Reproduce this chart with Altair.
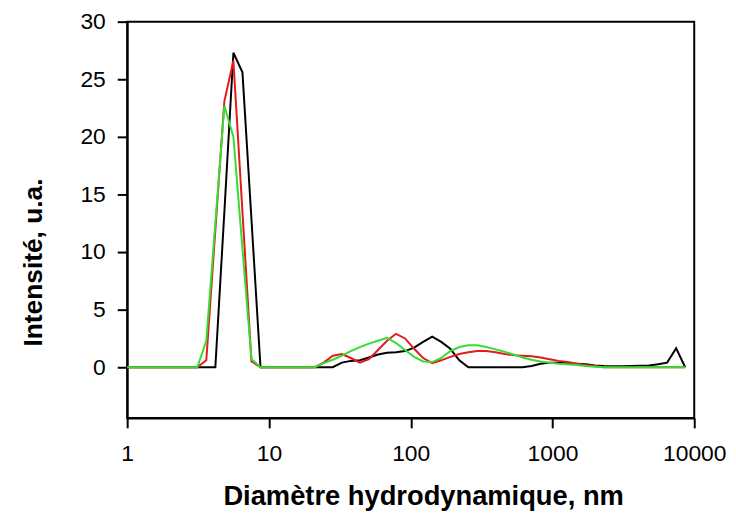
import altair as alt
import pandas as pd

# Hydrodynamic diameter bins (nm)
sizes = [0.9649, 1.117, 1.294, 1.499, 1.736, 2.01, 2.328, 2.696, 3.122, 3.615,
         4.187, 4.849, 5.615, 6.503, 7.531, 8.721, 10.1, 11.7, 13.54, 15.69,
         18.17, 21.04, 24.36, 28.21, 32.67, 37.84, 43.82, 50.75, 58.77, 68.06,
         78.82, 91.28, 105.7, 122.4, 141.8, 164.2, 190.1, 220.2, 255.0, 295.3,
         342.0, 396.1, 458.7, 531.2, 615.1, 712.4, 825.0, 955.4, 1106, 1281,
         1484, 1718, 1990, 2305, 2669, 3091, 3580, 4145, 4801, 5560,
         6439, 7456, 8635]

black = [0, 0, 0, 0, 0, 0, 0, 0, 0, 0,
         0, 13.5, 27.3, 25.6, 12.8, 0, 0, 0, 0, 0,
         0, 0, 0, 0, 0.4, 0.55, 0.6, 0.85, 1.1, 1.25,
         1.3, 1.4, 1.7, 2.2, 2.65, 2.2, 1.6, 0.6, 0, 0,
         0, 0, 0, 0, 0, 0.1, 0.3, 0.4, 0.4, 0.35,
         0.3, 0.25, 0.15, 0.1, 0.08, 0.08, 0.1, 0.12, 0.15, 0.25,
         0.4, 1.65, 0]

red = [0, 0, 0, 0, 0, 0, 0, 0, 0, 0.6,
       11.9, 23.1, 26.6, 13.5, 0.5, 0, 0, 0, 0, 0,
       0, 0, 0.4, 1.0, 1.15, 0.8, 0.4, 0.7, 1.5, 2.3,
       2.9, 2.5, 1.6, 0.8, 0.35, 0.6, 0.9, 1.15, 1.3, 1.4,
       1.4, 1.3, 1.15, 1.05, 1.0, 0.95, 0.85, 0.7, 0.55, 0.45,
       0.3, 0.2, 0.1, 0, 0, 0, 0, 0, 0, 0,
       0, 0, 0]

green = [0, 0, 0, 0, 0, 0, 0, 0, 0, 2.3,
         12.5, 22.7, 20.0, 10.3, 0.7, 0, 0, 0, 0, 0,
         0, 0, 0.35, 0.65, 1.0, 1.4, 1.75, 2.05, 2.3, 2.55,
         2.1, 1.5, 0.9, 0.5, 0.45, 0.8, 1.4, 1.75, 1.9, 1.9,
         1.75, 1.55, 1.35, 1.1, 0.85, 0.65, 0.5, 0.4, 0.3, 0.25,
         0.2, 0.1, 0.05, 0, 0, 0, 0, 0, 0, 0,
         0, 0, 0]

series_names = ["noir", "rouge", "vert"]
series_colors = ["#000000", "#e3191c", "#33dd33"]
x_ticks = [1, 10, 100, 1000, 10000]
y_ticks = [0, 5, 10, 15, 20, 25, 30]

rows = []
for name, vals in zip(series_names, [black, red, green]):
    for s, v in zip(sizes, vals):
        rows.append({"d": s, "v": v, "serie": name})
df = pd.DataFrame(rows)

FONT = "Liberation Sans"
common = dict(
    grid=False, tickSize=10, domainColor="#000000", domainWidth=2,
    tickColor="#000000", tickWidth=2,
    labelFont=FONT, labelFontSize=23, labelColor="#000000",
    titleFont=FONT, titleFontWeight="bold", titleColor="#000000",
)

chart = alt.Chart(df).mark_line(strokeWidth=2, clip=True).encode(
    x=alt.X("d:Q",
            scale=alt.Scale(type="log", domain=[1, 10000], nice=False),
            axis=alt.Axis(values=x_ticks, format="d", title="Diamètre hydrodynamique, nm",
                          labelPadding=15, labelFlush=False, labelOverlap=False,
                          titleFontSize=27.5,
                          titleX=298, titleY=87, titleBaseline="alphabetic", titleAlign="center",
                          **common)),
    y=alt.Y("v:Q",
            scale=alt.Scale(domain=[-4.4, 30], nice=False, zero=False),
            axis=alt.Axis(values=y_ticks, title="Intensité, u.a.",
                          labelPadding=12, labelFlush=False, labelOverlap=False,
                          titleFontSize=26.5,
                          titleX=-86, titleY=242, titleAngle=270,
                          titleBaseline="alphabetic", titleAlign="center",
                          **common)),
    color=alt.Color("serie:N", scale=alt.Scale(domain=series_names, range=series_colors), legend=None),
    order=alt.Order("d:Q"),
).properties(
    width=571, height=399,
    background="#ffffff",
    autosize=alt.AutoSizeParams(type="none"),
    padding={"left": 120, "top": 12, "right": 34, "bottom": 95},
).configure_view(
    stroke="#000000", strokeWidth=2
)

chart.save("out.html", embed_options={"renderer": "svg", "actions": False})
